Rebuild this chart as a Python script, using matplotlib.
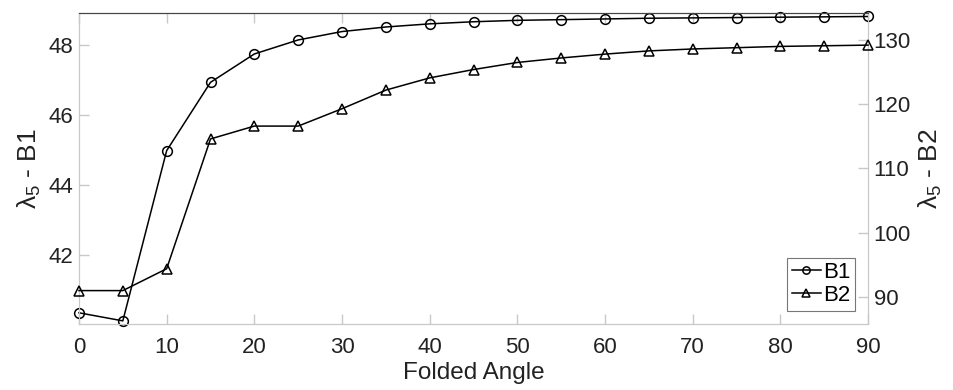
import matplotlib
matplotlib.use("Agg")
import matplotlib.pyplot as plt

# Veriler
folded_angle = [0, 5, 10, 15, 20, 25, 30, 35, 40, 45,
                50, 55, 60, 65, 70, 75, 80, 85, 90]
b1 = [40.35, 40.12, 44.98, 46.93, 47.74, 48.14, 48.38, 48.51, 48.60, 48.66,
      48.70, 48.72, 48.74, 48.76, 48.77, 48.78, 48.79, 48.80, 48.81]
b2 = [91.0, 91.0, 94.4, 114.6, 116.6, 116.6, 119.3, 122.2, 124.1, 125.4,
      126.5, 127.2, 127.8, 128.3, 128.6, 128.8, 129.0, 129.1, 129.2]
x_ticks = [0, 10, 20, 30, 40, 50, 60, 70, 80, 90]
b1_ticks = [42, 44, 46, 48]
b2_ticks = [90, 100, 110, 120, 130]

plt.rcParams['font.family'] = ['Liberation Sans', 'DejaVu Sans']
plt.rcParams['mathtext.fontset'] = 'custom'
plt.rcParams['mathtext.rm'] = 'Liberation Sans'
plt.rcParams['mathtext.it'] = 'Liberation Sans'

fig = plt.figure(figsize=(9.54, 3.9), dpi=100)
ax = fig.add_axes([0.0828, 0.1692, 0.8271, 0.7975])
ax2 = ax.twinx()

l1, = ax.plot(folded_angle, b1, color='black', lw=1.1, marker='o',
              markersize=7, markerfacecolor='none', markeredgewidth=1.1,
              label='B1', clip_on=False, zorder=3)
l2, = ax2.plot(folded_angle, b2, color='black', lw=1.1, marker='^',
               markersize=7, markerfacecolor='none', markeredgewidth=1.1,
               label='B2', clip_on=False, zorder=3)

ax.set_xlim(0, 90)
ax.set_ylim(40.03, 48.91)
ax2.set_ylim(85.8, 134.2)
ax.set_xticks(x_ticks)
ax.set_yticks(b1_ticks)
ax2.set_yticks(b2_ticks)

light = '#c8c8c8'
for a in (ax, ax2):
    for side in ('left', 'right', 'bottom'):
        a.spines[side].set_color(light)
    a.spines['top'].set_color('#444444')
ax.tick_params(axis='x', direction='in', length=7, width=1, color=light,
               top=True, labelsize=16, labelcolor='#222222', pad=9)
ax.tick_params(axis='y', direction='in', length=7, width=1, color=light,
               labelsize=16, labelcolor='#222222', pad=4)
ax2.tick_params(axis='y', direction='in', length=7, width=1, color=light,
                labelsize=16, labelcolor='#222222', pad=4)

ax.set_xlabel('Folded Angle', fontsize=17.5, color='#222222', labelpad=3)
ax.set_ylabel(r'$\lambda_5$ - B1', fontsize=19, color='#222222', labelpad=4)
ax2.set_ylabel(r'$\lambda_5$ - B2', fontsize=19, color='#222222', labelpad=4,
               rotation=90)

leg = ax2.legend(handles=[l1, l2], loc='lower right', fontsize=16,
                 frameon=True, fancybox=False, handlelength=1.3,
                 handletextpad=0.1, borderpad=0.2, labelspacing=0.1,
                 borderaxespad=0.6, markerscale=0.75)
leg.get_frame().set_edgecolor('#555555')
leg.get_frame().set_linewidth(0.8)

fig.savefig('out.png', dpi=100)
